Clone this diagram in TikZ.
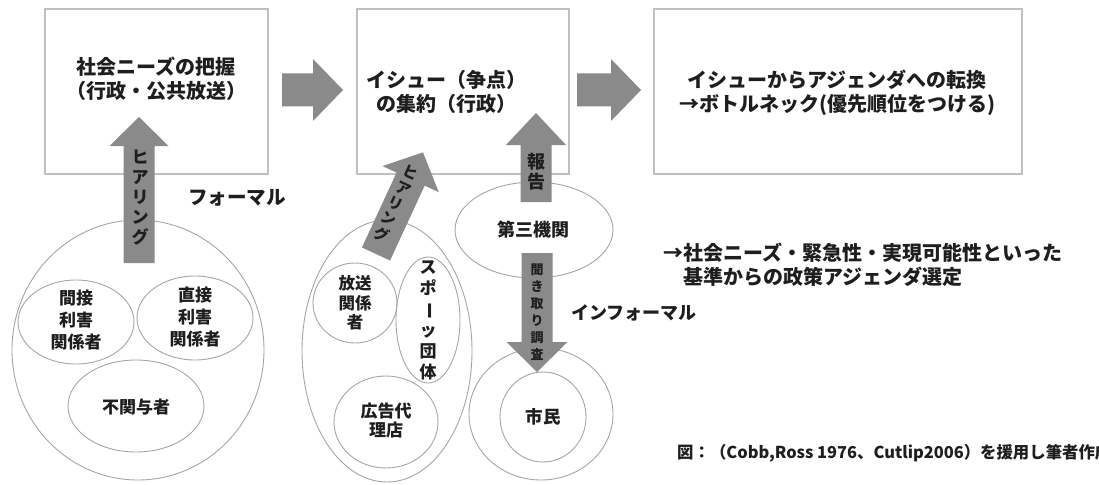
\documentclass[tikz,border=0pt]{standalone}
\usepackage{fontspec}
\setmainfont{Noto Sans CJK JP}
\usepackage{graphicx}
\usetikzlibrary{shapes.geometric}
\definecolor{arrowgray}{RGB}{138,138,138}
\definecolor{boxline}{RGB}{192,192,192}
\definecolor{ovalline}{RGB}{165,165,165}
\definecolor{txt}{RGB}{30,30,30}
\newcommand{\vbar}{\rotatebox[origin=c]{-90}{ー}}
% block arrow: #1 tail coordinate, #2 angle, #3 length, #4 shaft half width, #5 head half width, #6 head length
\newcommand{\blockarrow}[6]{%
  \fill[arrowgray, shift={(#1)}, rotate=#2]
    (0,-#4) -- ({#3-#6},-#4) -- ({#3-#6},-#5) -- (#3,0) -- ({#3-#6},#5) -- ({#3-#6},#4) -- (0,#4) -- cycle;}
\begin{document}
\begin{tikzpicture}[x=1pt,y=-1pt,
  box/.style={draw=boxline, line width=1.3pt},
  oval/.style={ellipse, draw=ovalline, line width=0.9pt, inner sep=0pt},
  lbl/.style={text=txt, align=center, inner sep=0pt, font=\bfseries\fontsize{20}{24}\selectfont},
  small/.style={text=txt, align=center, inner sep=0pt, font=\bfseries\fontsize{17}{22}\selectfont},
]
\useasboundingbox (0,0) rectangle (1099,484);
\fill[white] (0,0) rectangle (1099,484);

% top boxes
\draw[box] (45,9) rectangle (268,174);
\draw[box] (357,9) rectangle (569,174);
\draw[box] (654,9) rectangle (1022,174);

\node[lbl] (t1) at (156,79) {社会ニーズの把握\\（行政・公共放送）};
\node[lbl] (t2) at (446,92) {イシュー（争点）\\の集約（行政）};
\node[lbl] (t3) at (837,93) {イシューからアジェンダへの転換\\→ボトルネック(優先順位をつける)};

% left group
\node[oval, minimum width=252pt, minimum height=260pt] (gL) at (138,350) {};
\node[oval, minimum width=116pt, minimum height=84pt] (eK) at (76,322) {};
\node[small] (tK) at (76,320) {間接\\利害\\関係者};
\node[oval, minimum width=116pt, minimum height=84pt] (eC) at (195,318) {};
\node[small] (tC) at (195,317) {直接\\利害\\関係者};
\node[oval, minimum width=136pt, minimum height=92pt] (eF) at (136,406) {};
\node[small] (tF) at (136,407) {不関与者};

% middle group
\node[oval, minimum width=170pt, minimum height=262pt] (gM) at (387,351) {};
\node[oval, minimum width=84pt, minimum height=80pt] (eH) at (355,303) {};
\node[small, font=\bfseries\fontsize{16.5}{19.5}\selectfont] (tH) at (355,303) {放送\\関係\\者};
\node[oval, minimum width=64pt, minimum height=126pt] (eS) at (428,320) {};
\node[small, font=\bfseries\fontsize{17}{21}\selectfont] (tS) at (428,320) {ス\\ポ\\\vbar\\ッ\\団\\体};
\node[oval, minimum width=104pt, minimum height=92pt] (eA) at (386,422) {};
\node[small, font=\bfseries\fontsize{17}{19}\selectfont] (tA) at (386,421) {広告代\\理店};

% right group
\node[oval, minimum width=158pt, minimum height=96pt] (e3) at (534,230) {};
\node[small, font=\bfseries\fontsize{18}{22}\selectfont] (t3k) at (533,230) {第三機関};
\node[oval, minimum width=144pt, minimum height=132pt] (gC) at (541,414) {};
\node[oval, minimum width=86pt, minimum height=90pt] (eCi) at (543,417) {};
\node[small, font=\bfseries\fontsize{17.5}{22}\selectfont] (tCi) at (543,417) {市民};

% arrow tails
\coordinate (h1) at (282,90);
\coordinate (h2) at (577,90);
\coordinate (v1) at (139,263);
\coordinate (d1) at (376,254);
\coordinate (r1) at (536,202);
\coordinate (k1) at (537,253);

% block arrows
\blockarrow{h1}{0}{61}{16.5}{31}{30}
\blockarrow{h2}{0}{64}{16.5}{31}{30}
\blockarrow{v1}{90}{146}{15.5}{29.5}{29}
\blockarrow{d1}{65.2}{112}{15.5}{31}{29.5}
\blockarrow{r1}{90}{89}{15.5}{30}{32}
\blockarrow{k1}{-90}{119}{15.5}{30.5}{30}

% arrow labels
\node[small, font=\bfseries\fontsize{17}{20}\selectfont] (v1t) at (140,198) {ヒ\\ア\\リ\\ン\\グ};
\node[small, rotate=-25, font=\bfseries\fontsize{15}{17}\selectfont] (d1t) at (396,204) {ヒ\\ア\\リ\\ン\\グ};
\node[small, font=\bfseries\fontsize{18}{20}\selectfont] (r1t) at (536,172) {報\\告};
\node[small, font=\bfseries\fontsize{13}{17}\selectfont] (k1t) at (537,312) {聞\\き\\取\\り\\調\\査};

% free labels
\node[lbl, font=\bfseries\fontsize{19.5}{24}\selectfont] (formal) at (237,198) {フォーマル};
\node[lbl, font=\bfseries\fontsize{18}{24}\selectfont] (informal) at (634,313) {インフォーマル};
\node[lbl, anchor=west, align=left] (crit) at (663,265) {→社会ニーズ・緊急性・実現可能性といった\\\hphantom{→}基準からの政策アジェンダ選定};
\node[lbl, anchor=west, font=\bfseries\fontsize{16.4}{20}\selectfont] (cap) at (677,453) {図：（Cobb,Ross 1976、Cutlip2006）を援用し筆者作成};
\end{tikzpicture}
\end{document}
